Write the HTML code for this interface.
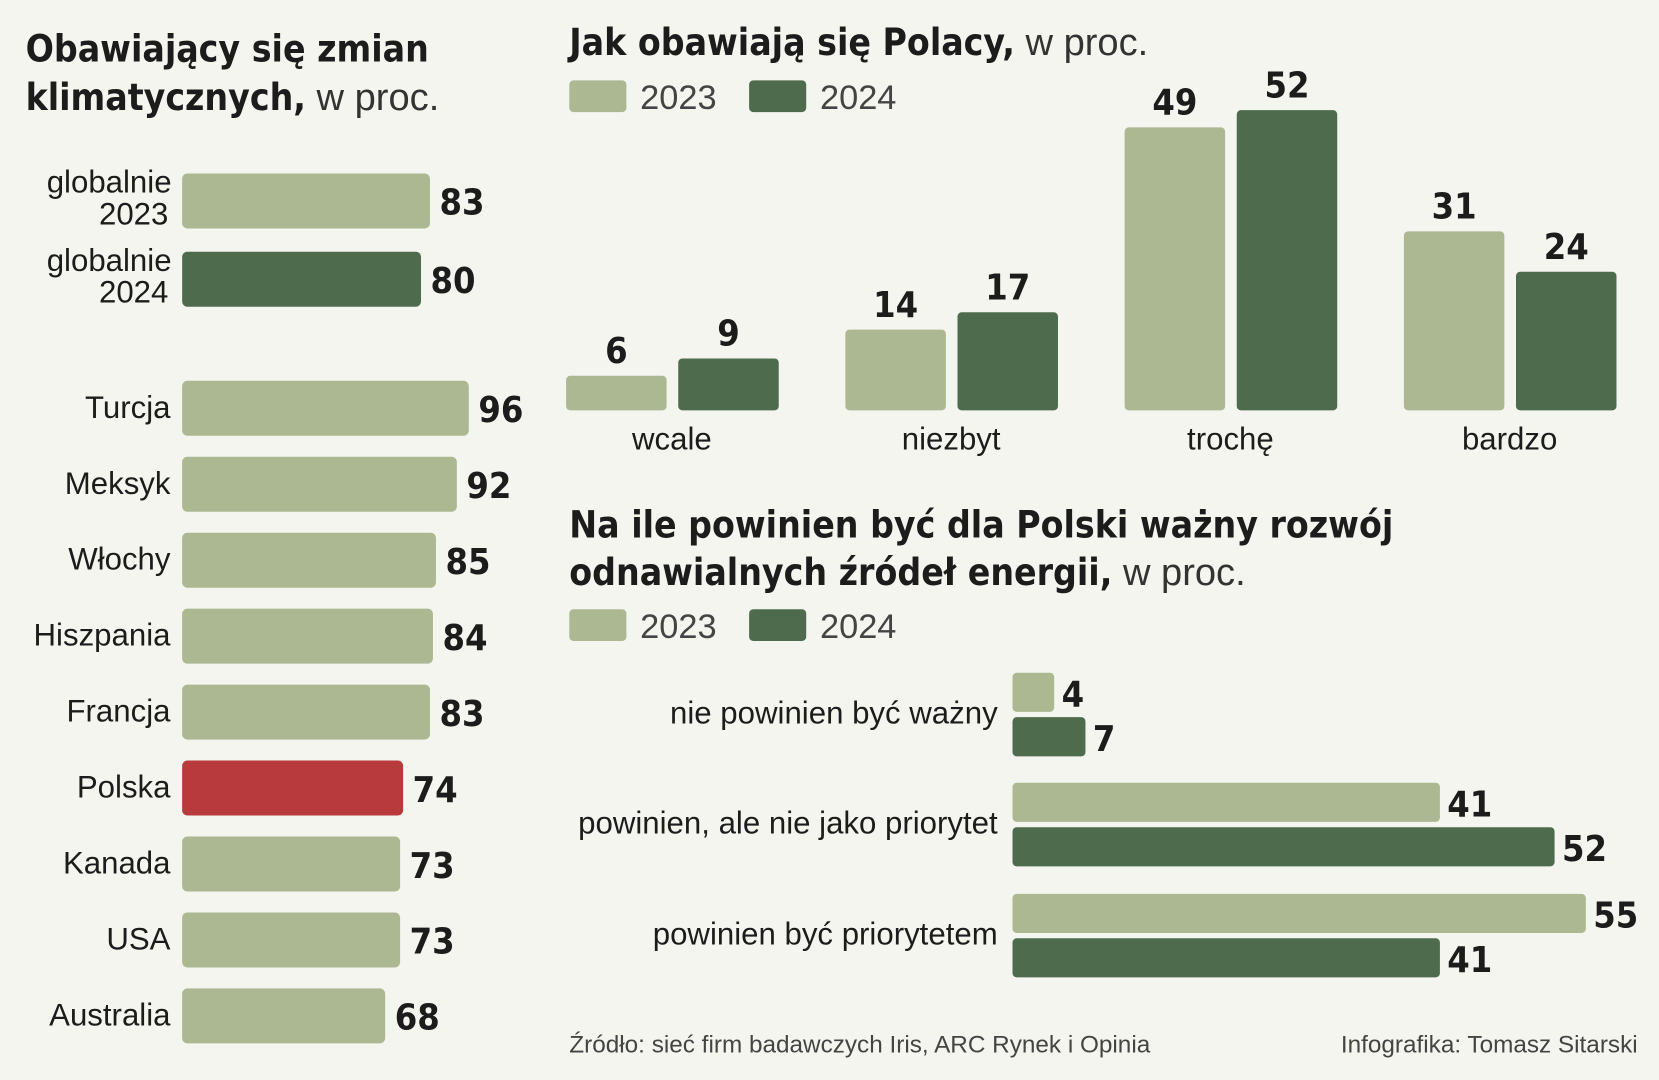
<!DOCTYPE html>
<html><head><meta charset="utf-8">
<style>
html,body{margin:0;padding:0;background:#f5f5f0;}
svg{display:block;}
text{font-family:"Liberation Sans Narrow","DejaVu Sans Condensed","Liberation Sans",sans-serif;fill:#1c1c1c;}
.t{font-weight:bold;font-size:35px;}
.tl{font-weight:normal;font-size:36px;font-family:"Liberation Sans",sans-serif;fill:#333;}
.lab{font-size:29.5px;font-family:"Liberation Sans",sans-serif;}
.val{font-weight:bold;font-size:34px;}
.leg{font-size:32.5px;font-family:"Liberation Sans",sans-serif;fill:#444;}
.foot{font-size:23px;font-family:"Liberation Sans",sans-serif;fill:#444;}
</style></head>
<body>
<svg id="c" width="1659" height="1080" viewBox="0 0 1568 1021" xmlns="http://www.w3.org/2000/svg">
<rect width="1568" height="1021" fill="#f5f5f0"/>
<text x="24" y="58" class="t">Obawiający się zmian</text>
<text x="24" y="104" class="t">klimatycznych,<tspan class="tl"> w proc.</tspan></text>
<text x="538" y="52" class="t">Jak obawiają się Polacy,<tspan class="tl"> w proc.</tspan></text>
<rect x="538" y="76" width="54" height="30" rx="4" fill="#abb891"/>
<text x="605" y="103" class="leg">2023</text>
<rect x="708" y="76" width="54" height="30" rx="4" fill="#4f6b4d"/>
<text x="775" y="103" class="leg">2024</text>
<text x="538" y="508" class="t">Na ile  powinien być dla Polski ważny rozwój</text>
<text x="538" y="553" class="t">odnawialnych źródeł energii,<tspan class="tl"> w proc.</tspan></text>
<rect x="538" y="576" width="54" height="30" rx="4" fill="#abb891"/>
<text x="605" y="603" class="leg">2023</text>
<rect x="708" y="576" width="54" height="30" rx="4" fill="#4f6b4d"/>
<text x="775" y="603" class="leg">2024</text>
<text x="538" y="995" class="foot">Źródło: sieć firm badawczych Iris, ARC Rynek i Opinia</text>
<text x="1548" y="995" class="foot" text-anchor="end">Infografika: Tomasz Sitarski</text>
<g id="g1"></g><g id="g2"></g><g id="g3"></g>
</svg>
<script>
const leftCats=[["globalnie","2023"],["globalnie","2024"],["Turcja"],["Meksyk"],["Włochy"],["Hiszpania"],["Francja"],["Polska"],["Kanada"],["USA"],["Australia"]];
const leftVals=[83,80,96,92,85,84,83,74,73,73,68];
const topCats=["wcale","niezbyt","trochę","bardzo"];
const top2023=[6,14,49,31];
const top2024=[9,17,52,24];
const botCats=["nie powinien być ważny","powinien, ale nie jako priorytet","powinien być priorytetem"];
const bot2023=[4,41,55];
const bot2024=[7,52,41];

const NS="http://www.w3.org/2000/svg";
function mk(tag,attrs,parent,txt){const e=document.createElementNS(NS,tag);for(const k in attrs)e.setAttribute(k,attrs[k]);if(txt!==undefined)e.textContent=txt;parent.appendChild(e);return e;}
const L="#abb891",D="#4f6b4d",R="#b83a3c";

const g1=document.getElementById('g1');
const lx=v=>172+v*2.823;
const lyc=i=>i<2?190+i*74:386+(i-2)*71.8;
leftCats.forEach((c,i)=>{
  const yc=lyc(i),v=leftVals[i];
  const col=i===1?D:(c[0]==="Polska"?R:L);
  const r=mk('rect',{x:172,y:yc-26,width:lx(v)-172,height:52,rx:5,fill:col},g1);
  
  
  const t=mk('text',{x:lx(v)+9,y:yc+13,class:'val'},g1,String(v));
  
  
  if(c.length===2){
    const a=mk('text',{x:162,y:yc-8,class:'lab','text-anchor':'end'},g1,c[0]);
    
    
    const b=mk('text',{x:159,y:yc+22,class:'lab','text-anchor':'end'},g1,c[1]);
    
    
  } else {
    const a=mk('text',{x:161,y:yc+9,class:'lab','text-anchor':'end'},g1,c[0]);
    
    
  }
});

const g2=document.getElementById('g2');
const base=388,ty=v=>base-v*5.46;
topCats.forEach((c,i)=>{
  const gx=535+i*264;
  [[top2023[i],gx,L,'2023'],[top2024[i],gx+106,D,'2024']].forEach(([v,x,col,yr])=>{
    const r=mk('rect',{x:x,y:ty(v),width:95,height:base-ty(v),rx:4,fill:col},g2);
    
    
    const t=mk('text',{x:x+47.5,y:ty(v)-12,class:'val','text-anchor':'middle'},g2,String(v));
    
    
  });
  const l=mk('text',{x:gx+100,y:425,class:'lab','text-anchor':'middle'},g2,c);
  
  
});

const g3=document.getElementById('g3');
const bx=v=>957+v*9.855;
const rowY=[636,740,845];
botCats.forEach((c,i)=>{
  const y0=rowY[i];
  [[bot2023[i],y0,L,'2023'],[bot2024[i],y0+42,D,'2024']].forEach(([v,y,col,yr])=>{
    const r=mk('rect',{x:957,y:y,width:bx(v)-957,height:37,rx:4,fill:col},g3);
    
    
    const t=mk('text',{x:bx(v)+7,y:y+32,class:'val'},g3,String(v));
    
    
  });
  const l=mk('text',{x:943,y:y0+48,class:'lab','text-anchor':'end'},g3,c);
  
  
});
</script>
</body></html>
